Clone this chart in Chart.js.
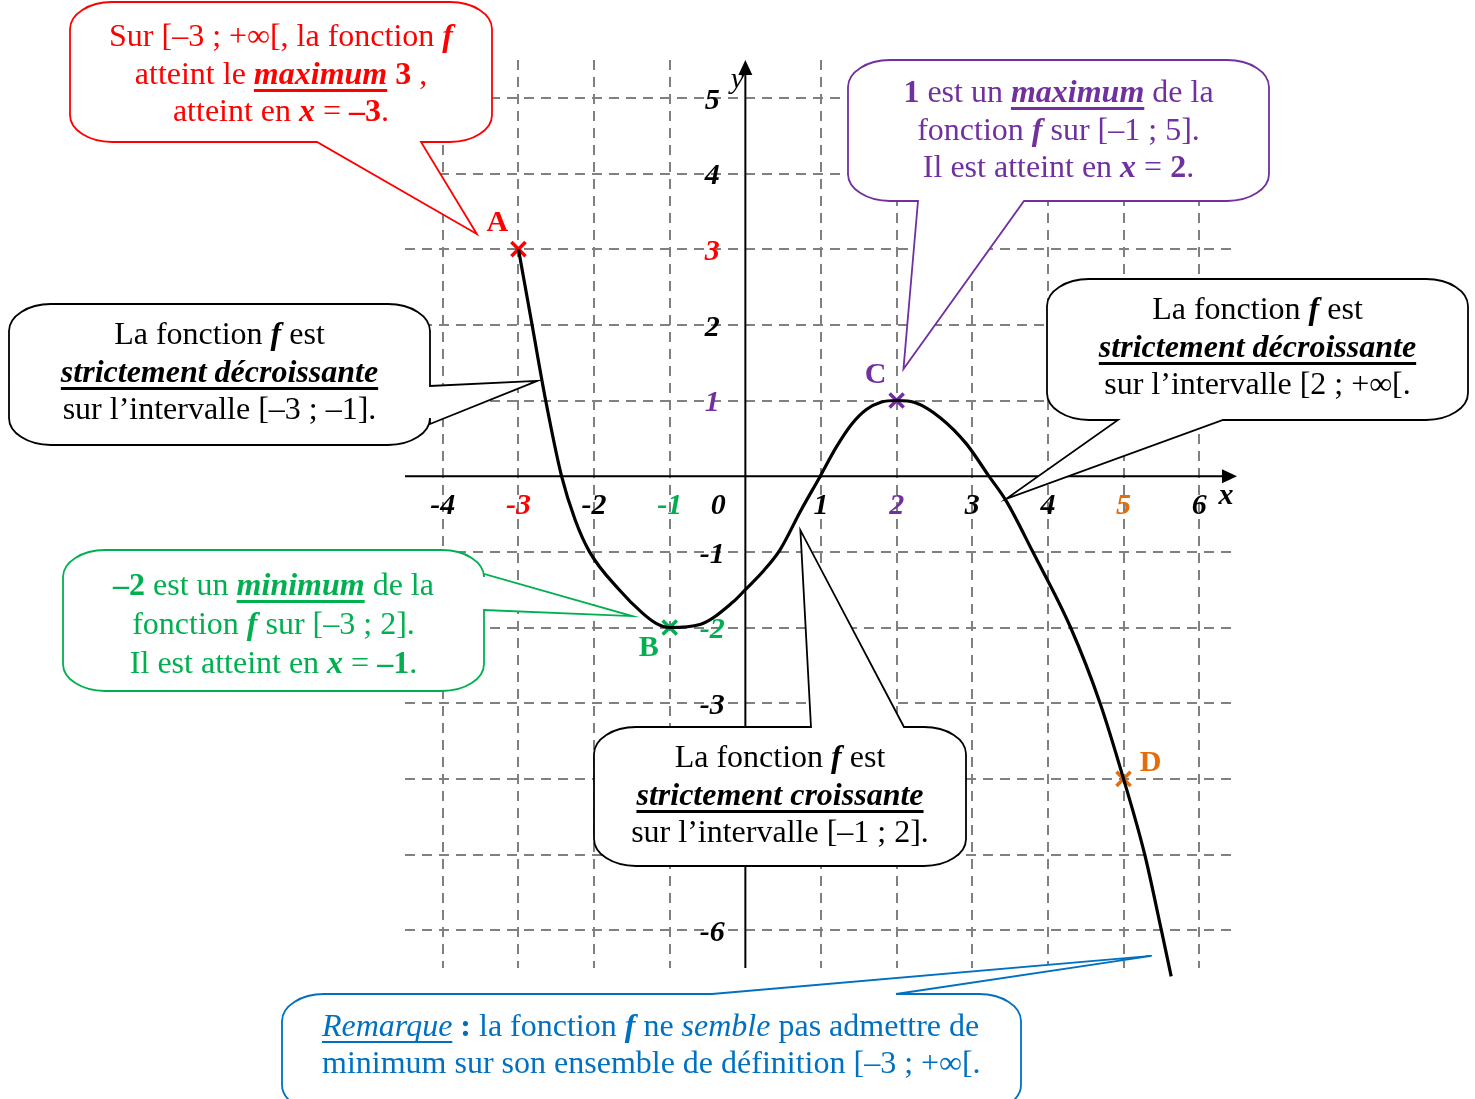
<!DOCTYPE html>
<html>
<head>
<meta charset="utf-8">
<script src="https://cdn.jsdelivr.net/npm/chart.js@4.4.1/dist/chart.umd.min.js"></script>
<style>
  html, body { margin: 0; padding: 0; background: #fff; }
  #wrap { position: relative; width: 1475px; height: 1099px; overflow: hidden; }
  #graph { position: absolute; left: 0; top: 0; }
  .note { position: absolute; font-family: "Liberation Serif", "Times New Roman", serif; font-size: 32px; line-height: 37.5px; text-align: center; white-space: nowrap; }
  .note b { font-weight: bold; }
  .u { text-decoration: underline; text-decoration-thickness: 3px; text-underline-offset: 5px; text-decoration-skip-ink: none; }
  .u1 { text-decoration: underline; text-decoration-thickness: 1.5px; text-underline-offset: 5px; text-decoration-skip-ink: none; }
</style>
</head>
<body>
<div id="wrap">
  <canvas id="graph" width="1475" height="1099"></canvas>

  <div class="note" style="left:70px; top:17px; width:422px; color:#FF0000;">
    Sur [–3 ; +∞[, la fonction <b><i>f</i></b><br>
    atteint le <b><i class="u">maximum</i></b> <b>3</b> ,<br>
    atteint en <b><i>x</i></b> = <b>–3</b>.
  </div>

  <div class="note" style="left:848px; top:73px; width:421px; color:#7030A0;">
    <b>1</b> est un <b><i class="u">maximum</i></b> de la<br>
    fonction <b><i>f</i></b> sur [–1 ; 5].<br>
    Il est atteint en <b><i>x</i></b> = <b>2</b>.
  </div>

  <div class="note" style="left:1047px; top:290px; width:421px; color:#000;">
    La fonction <b><i>f</i></b> est<br>
    <b><i class="u">strictement décroissante</i></b><br>
    sur l’intervalle [2 ; +∞[.
  </div>

  <div class="note" style="left:9px; top:315px; width:421px; color:#000;">
    La fonction <b><i>f</i></b> est<br>
    <b><i class="u">strictement décroissante</i></b><br>
    sur l’intervalle [–3 ; –1].
  </div>

  <div class="note" style="left:63px; top:565px; width:421px; color:#00B050; line-height:39px;">
    <b>–2</b> est un <b><i class="u">minimum</i></b> de la<br>
    fonction <b><i>f</i></b> sur [–3 ; 2].<br>
    Il est atteint en <b><i>x</i></b> = <b>–1</b>.
  </div>

  <div class="note" style="left:594px; top:738px; width:372px; color:#000;">
    La fonction <b><i>f</i></b> est<br>
    <b><i class="u">strictement croissante</i></b><br>
    sur l’intervalle [–1 ; 2].
  </div>

  <div class="note" style="left:322px; top:1007px; text-align:left; line-height:37px; color:#0070C0;">
    <i class="u1">Remarque</i> <b>:</b> la fonction <b><i>f</i></b> ne <i>semble</i> pas admettre de<br>
    minimum sur son ensemble de définition [–3 ; +∞[.
  </div>
</div>

<script>
// curve of f
const curveX = [-3, -2.82, -2.64, -2.43, -2.25, -2.06, -1.665, -1.36, -1.18, -1, -0.6, -0.16, 0, 0.25, 0.46, 0.73, 0.99, 1.2, 1.4, 1.6, 1.8, 2, 2.25, 2.58, 2.92, 3.22, 3.45, 3.8, 4.3, 4.69, 5, 5.28, 5.5, 5.63];
const curveY = [3, 2, 1, 0, -0.58, -1, -1.505, -1.81, -1.945, -2, -1.96, -1.66, -1.5, -1.24, -0.97, -0.46, 0, 0.38, 0.68, 0.88, 0.98, 1, 0.97, 0.77, 0.43, 0, -0.33, -1, -2, -3, -4, -5, -6, -6.61];

// marked points
const pointNames = ['A', 'B', 'C', 'D'];
const pointX = [-3, -1, 2, 5];
const pointY = [3, -2, 1, -4];

// grid and tick labels
const xGrid = [-4, -3, -2, -1, 1, 2, 3, 4, 5, 6];
const yGrid = [5, 4, 3, 2, 1, -1, -2, -3, -4, -5, -6];
const xTickValues = [-4, -3, -2, -1, 0, 1, 2, 3, 4, 5, 6];
const xTickLabels = ['-4', '-3', '-2', '-1', '0', '1', '2', '3', '4', '5', '6'];
const yTickValues = [5, 4, 3, 2, 1, -1, -2, -3, -4, -5, -6];
const yTickLabels = ['5', '4', '3', '2', '1', '-1', '-2', '-3', '-4', '-5', '-6'];

const pointColors = ['#FF0000', '#00B050', '#7030A0', '#E46C0A'];
const labelOffsets = [[-21, -26], [-21, 21], [-21, -25], [27, -16]];

// callout bubbles: box in page pixels, tail tip in graph units
const bubbles = [
  { x: 70, y: 2, w: 422, h: 140, color: '#FF0000', side: 'bottom', a: 317, b: 421, tip: [-3.55, 3.2] },
  { x: 848, y: 60, w: 421, h: 141, color: '#7030A0', side: 'bottom', a: 918, b: 1024, tip: [2.09, 1.415] },
  { x: 1047, y: 279, w: 421, h: 141, color: '#000000', side: 'bottom', a: 1118, b: 1223, tip: [3.45, -0.3] },
  { x: 9, y: 304, w: 421, h: 141, color: '#000000', side: 'right', a: 386, b: 424, tip: [-2.75, 1.26] },
  { x: 63, y: 550, w: 421, h: 141, color: '#00B050', side: 'right', a: 574, b: 610, tip: [-1.495, -1.85] },
  { x: 594, y: 727, w: 372, h: 139, color: '#000000', side: 'top', a: 811, b: 904, tip: [0.7275, -0.714] },
  { x: 282, y: 994, w: 739, h: 118, color: '#0070C0', side: 'top', a: 712, b: 896, tip: [5.37, -6.34] }
];

function colorFor(values, v) {
  const i = values.indexOf(v);
  return i >= 0 ? pointColors[i] : '#000';
}

function bubblePath(ctx, bb, tx, ty) {
  const rx = 42, ry = 27;
  const { x, y, w, h } = bb;
  const lo = Math.min(bb.a, bb.b), hi = Math.max(bb.a, bb.b);
  ctx.beginPath();
  ctx.moveTo(x + rx, y);
  if (bb.side === 'top') { ctx.lineTo(lo, y); ctx.lineTo(tx, ty); ctx.lineTo(hi, y); }
  ctx.lineTo(x + w - rx, y);
  ctx.ellipse(x + w - rx, y + ry, rx, ry, 0, -Math.PI / 2, 0);
  if (bb.side === 'right') { ctx.lineTo(x + w, lo); ctx.lineTo(tx, ty); ctx.lineTo(x + w, hi); }
  ctx.lineTo(x + w, y + h - ry);
  ctx.ellipse(x + w - rx, y + h - ry, rx, ry, 0, 0, Math.PI / 2);
  if (bb.side === 'bottom') { ctx.lineTo(hi, y + h); ctx.lineTo(tx, ty); ctx.lineTo(lo, y + h); }
  ctx.lineTo(x + rx, y + h);
  ctx.ellipse(x + rx, y + h - ry, rx, ry, 0, Math.PI / 2, Math.PI);
  ctx.lineTo(x, y + ry);
  ctx.ellipse(x + rx, y + ry, rx, ry, 0, Math.PI, Math.PI * 1.5);
  ctx.closePath();
}

const decor = {
  id: 'decor',
  beforeDatasetsDraw(chart) {
    const { ctx, chartArea: a, scales: { x, y } } = chart;
    const x0 = x.getPixelForValue(0), y0 = y.getPixelForValue(0);
    ctx.save();
    ctx.strokeStyle = '#000';
    ctx.fillStyle = '#000';
    ctx.lineWidth = 2;
    ctx.beginPath();
    ctx.moveTo(a.left, y0); ctx.lineTo(a.right - 10, y0);
    ctx.moveTo(x0, a.bottom); ctx.lineTo(x0, a.top + 10);
    ctx.stroke();
    // arrow heads
    ctx.beginPath();
    ctx.moveTo(a.right, y0); ctx.lineTo(a.right - 15, y0 - 7); ctx.lineTo(a.right - 15, y0 + 7); ctx.closePath();
    ctx.moveTo(x0, a.top); ctx.lineTo(x0 - 7, a.top + 15); ctx.lineTo(x0 + 7, a.top + 15); ctx.closePath();
    ctx.fill();

    ctx.font = 'italic bold 30px "Liberation Serif"';
    ctx.textAlign = 'center';
    ctx.textBaseline = 'middle';
    xTickValues.forEach((v, i) => {
      ctx.fillStyle = colorFor(pointX, v);
      ctx.fillText(xTickLabels[i], x.getPixelForValue(v) + (v === 0 ? -27 : 0), y0 + 30);
    });
    yTickValues.forEach((v, i) => {
      ctx.fillStyle = colorFor(pointY, v);
      ctx.fillText(yTickLabels[i], x0 - 33, y.getPixelForValue(v) + 3);
    });
    ctx.fillStyle = '#000';
    ctx.fillText('x', a.right - 11, y0 + 20);
    ctx.font = 'italic 30px "Liberation Serif"';
    ctx.fillText('y', x0 - 8, a.top + 20);
    ctx.restore();
  },
  afterDatasetsDraw(chart) {
    const { ctx, scales: { x, y } } = chart;
    ctx.save();
    bubbles.forEach(bb => {
      bubblePath(ctx, bb, x.getPixelForValue(bb.tip[0]), y.getPixelForValue(bb.tip[1]));
      ctx.fillStyle = '#fff';
      ctx.fill();
      ctx.strokeStyle = bb.color;
      ctx.lineWidth = 1.8;
      ctx.lineJoin = 'miter';
      ctx.stroke();
    });
    ctx.font = 'bold 30px "Liberation Serif"';
    ctx.textAlign = 'center';
    ctx.textBaseline = 'middle';
    pointNames.forEach((n, i) => {
      ctx.fillStyle = pointColors[i];
      ctx.fillText(n, x.getPixelForValue(pointX[i]) + labelOffsets[i][0], y.getPixelForValue(pointY[i]) + labelOffsets[i][1]);
    });
    ctx.restore();
  }
};

const gridStyle = { color: '#808080', lineWidth: 2, drawTicks: false };

new Chart(document.getElementById('graph').getContext('2d'), {
  type: 'scatter',
  data: {
    datasets: [
      {
        data: curveX.map((v, i) => ({ x: v, y: curveY[i] })),
        showLine: true,
        borderColor: '#000',
        borderWidth: 3.2,
        pointRadius: 0,
        cubicInterpolationMode: 'monotone',
        clip: false
      },
      {
        data: pointX.map((v, i) => ({ x: v, y: pointY[i] })),
        pointStyle: 'crossRot',
        pointRadius: 10,
        borderWidth: 3.5,
        borderColor: pointColors,
        backgroundColor: pointColors,
        showLine: false
      }
    ]
  },
  options: {
    responsive: false,
    animation: false,
    events: [],
    layout: { padding: { left: 405, right: 238, top: 60, bottom: 131 } },
    plugins: { legend: { display: false }, tooltip: { enabled: false } },
    scales: {
      x: {
        type: 'linear', min: -4.5, max: 6.5,
        afterBuildTicks: s => { s.ticks = xGrid.map(v => ({ value: v })); },
        ticks: { display: false },
        grid: gridStyle,
        border: { display: false, dash: [10, 7] }
      },
      y: {
        type: 'linear', min: -6.5, max: 5.5,
        afterBuildTicks: s => { s.ticks = yGrid.map(v => ({ value: v })); },
        ticks: { display: false },
        grid: gridStyle,
        border: { display: false, dash: [10, 7] }
      }
    }
  },
  plugins: [decor]
});
</script>
</body>
</html>
